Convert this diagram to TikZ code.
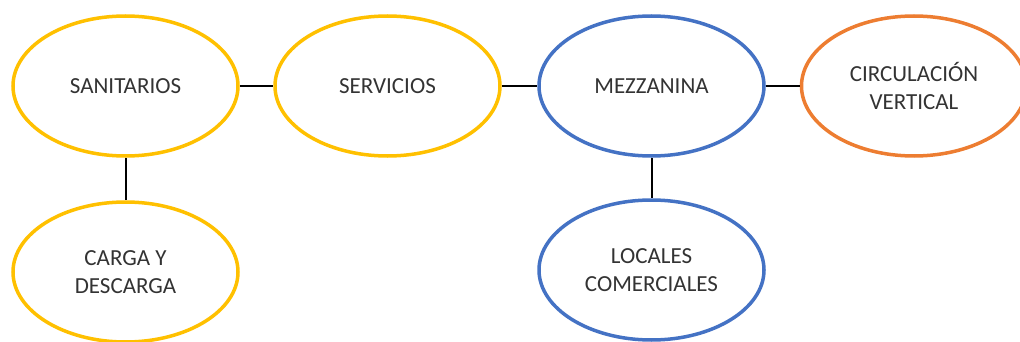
\documentclass[tikz,border=0pt]{standalone}
\usepackage{fontspec}
\setmainfont{Carlito}
\usetikzlibrary{shapes.geometric}
\definecolor{cyellow}{HTML}{FFC000}
\definecolor{cblue}{HTML}{4472C4}
\definecolor{corange}{HTML}{ED7D31}
\begin{document}
\begin{tikzpicture}[x=1pt,y=-1pt,
  bub/.style={ellipse,draw,line width=3.5pt,minimum width=225pt,minimum height=140pt,inner sep=0pt,
    align=center,text=black!80,font=\fontsize{23}{28}\selectfont},
  yb/.style={bub,draw=cyellow},
  bb/.style={bub,draw=cblue},
  ob/.style={bub,draw=corange},
  link/.style={draw=black,line width=2pt}]
\useasboundingbox (0,0) rectangle (1020,342);
\node[yb] (san) at (125.5,86) {SANITARIOS};
\node[yb] (ser) at (387.5,86) {SERVICIOS};
\node[bb] (mez) at (651.5,86) {MEZZANINA};
\node[ob] (cir) at (914,86) {CIRCULACIÓN\\VERTICAL};
\node[yb] (car) at (125.5,272) {CARGA Y\\DESCARGA};
\node[bb] (loc) at (651.5,270) {LOCALES\\COMERCIALES};
\draw[link] (san) -- (ser);
\draw[link] (ser) -- (mez);
\draw[link] (mez) -- (cir);
\draw[link] (san) -- (car);
\draw[link] (mez) -- (loc);
\end{tikzpicture}
\end{document}
